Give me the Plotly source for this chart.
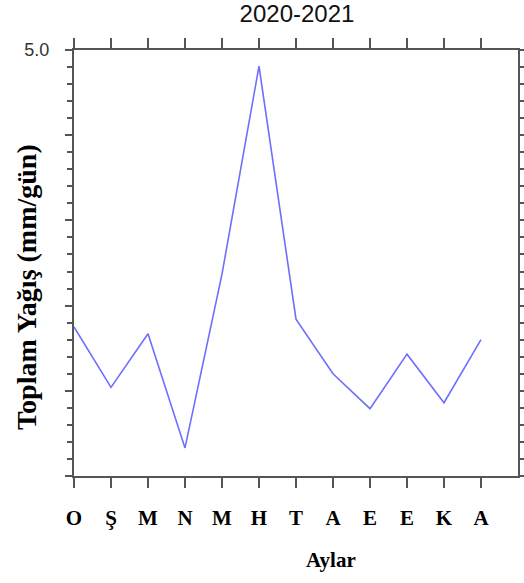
import plotly.graph_objects as go

months = ["O", "Ş", "M", "N", "M", "H", "T", "A", "E", "E", "K", "A"]
month_idx = list(range(12))
precip = [1.75, 1.04, 1.67, 0.33, 2.37, 4.81, 1.84, 1.20, 0.79, 1.43, 0.86, 1.60]
y_tickvals = [0, 1, 2, 3, 4, 5]
y_ticktext = ["", "", "", "", "", "5.0"]

axis_col = "#555555"
serif = "Liberation Serif"

fig = go.Figure()
fig.add_trace(go.Scatter(x=month_idx, y=precip, mode="lines",
                         line=dict(color="rgb(110,110,255)", width=1.6),
                         hoverinfo="skip", showlegend=False))

fig.update_layout(
    width=524, height=583,
    margin=dict(l=74, r=6, t=50, b=107, autoexpand=False),
    paper_bgcolor="white", plot_bgcolor="white",
    title=dict(text="2020-2021", xref="container", yref="container",
               x=297/524, y=1 - 14/583, xanchor="center", yanchor="middle",
               font=dict(family="Liberation Sans", size=24, color="#111")),
    xaxis=dict(range=[0, 12], tickvals=month_idx, ticktext=months,
               showgrid=False, zeroline=False, automargin=False,
               showline=True, linecolor=axis_col, linewidth=2, mirror="allticks",
               ticks="outside", ticklen=10, tickwidth=2, tickcolor=axis_col,
               ticklabelstandoff=12,
               tickfont=dict(family=serif, size=21, color="#000", weight="bold")),
    yaxis=dict(range=[0, 5], tickvals=y_tickvals, ticktext=y_ticktext,
               showgrid=False, zeroline=False, automargin=False,
               showline=True, linecolor=axis_col, linewidth=2, mirror="allticks",
               ticks="outside", ticklen=7, tickwidth=2, tickcolor=axis_col,
               minor=dict(dtick=0.2, ticks="outside", ticklen=5, tickwidth=1.5,
                          tickcolor=axis_col, showgrid=False),
               ticklabelstandoff=12,
               tickfont=dict(family="Liberation Sans", size=18, color="#333")),
)

fig.add_annotation(text="<b>Toplam Yağış (mm/gün)</b>", xref="paper", yref="paper",
                   x=(26 - 74) / 444, y=(476 - 287) / 426, textangle=-90,
                   showarrow=False, xanchor="center", yanchor="middle",
                   font=dict(family=serif, size=28, color="#000"))
fig.add_annotation(text="<b>Aylar</b>", xref="paper", yref="paper",
                   x=(331 - 74) / 444, y=(476 - 560) / 426,
                   showarrow=False, xanchor="center", yanchor="middle",
                   font=dict(family=serif, size=21, color="#000"))

fig.write_html("out.html")
